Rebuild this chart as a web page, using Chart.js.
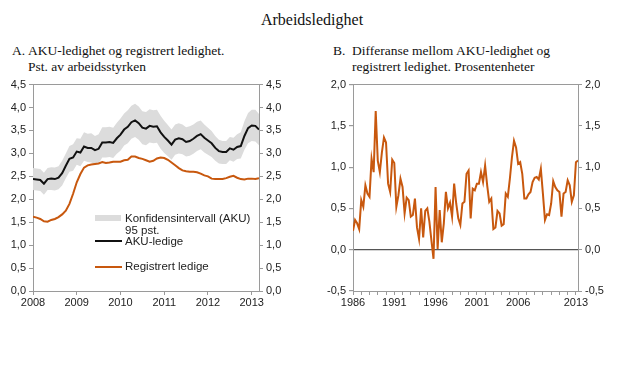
<!DOCTYPE html>
<html>
<head>
<meta charset="utf-8">
<script src="https://cdn.jsdelivr.net/npm/chart.js@4.4.1/dist/chart.umd.min.js"></script>
<style>
    body { margin: 0; background: #fff; width: 620px; height: 365px; position: relative; overflow: hidden; }
    .serif { position: absolute; font-family: "Liberation Serif", "Times New Roman", serif; color: #111; white-space: nowrap; }
    .leg { position: absolute; font-family: "Liberation Sans", Arial, sans-serif; font-size: 11.5px; color: #222; white-space: nowrap; line-height: 12px; }
    canvas { position: absolute; }
</style>
</head>
<body>
<div class="serif" style="left:0;width:624px;text-align:center;top:11px;font-size:16px;">Arbeidsledighet</div>

<div class="serif" style="left:12px;top:43px;font-size:13.5px;">A.</div>
<div class="serif" style="left:28px;top:43px;font-size:13.5px;line-height:16px;">AKU-ledighet og registrert ledighet.<br>Pst. av arbeidsstyrken</div>

<div class="serif" style="left:333px;top:43px;font-size:13.5px;">B.</div>
<div class="serif" style="left:352px;top:43px;font-size:13.5px;line-height:16px;">Differanse mellom AKU-ledighet og<br>registrert ledighet. Prosentenheter</div>

<canvas id="chartA" width="300" height="240" style="left:0;top:75px;"></canvas>
<canvas id="chartB" width="310" height="240" style="left:310px;top:75px;"></canvas>

<!-- legend panel A -->
<div style="position:absolute;left:95px;top:215px;width:26px;height:6px;background:#dcdcdc;"></div>
<div class="leg" style="left:125px;top:212px;">Konfidensintervall (AKU)<br>95 pst.</div>
<div style="position:absolute;left:95px;top:240px;width:27px;height:2px;background:#111;"></div>
<div class="leg" style="left:125px;top:235px;">AKU-ledige</div>
<div style="position:absolute;left:95px;top:266px;width:27px;height:2px;background:#c8580e;"></div>
<div class="leg" style="left:125px;top:260px;">Registrert ledige</div>

<script>
// ---- DATA panel A (månedlig, jan 2008 - mar 2013) ----
const startYearA = 2008;
const akuLedige = [2.44, 2.43, 2.42, 2.34, 2.44, 2.45, 2.44, 2.47, 2.57, 2.73, 2.88, 2.91,
    3.04, 3.02, 3.15, 3.12, 3.12, 3.07, 3.10, 3.24, 3.24, 3.25, 3.23, 3.33,
    3.41, 3.52, 3.58, 3.68, 3.72, 3.66, 3.56, 3.54, 3.60, 3.58, 3.59, 3.46,
    3.36, 3.28, 3.19, 3.30, 3.33, 3.31, 3.25, 3.27, 3.32, 3.38, 3.42, 3.34,
    3.28, 3.22, 3.12, 3.05, 3.03, 3.03, 3.11, 3.08, 3.14, 3.16, 3.38, 3.55,
    3.61, 3.60, 3.52];
const registrertLedige = [1.62, 1.60, 1.57, 1.52, 1.51, 1.55, 1.57, 1.61, 1.67, 1.75, 1.90, 2.12,
    2.37, 2.55, 2.69, 2.74, 2.76, 2.77, 2.78, 2.81, 2.79, 2.80, 2.82, 2.82,
    2.82, 2.85, 2.86, 2.93, 2.93, 2.90, 2.88, 2.85, 2.82, 2.84, 2.89, 2.91,
    2.90, 2.86, 2.80, 2.74, 2.68, 2.63, 2.61, 2.60, 2.60, 2.59, 2.56, 2.52,
    2.50, 2.45, 2.44, 2.44, 2.44, 2.46, 2.49, 2.51, 2.47, 2.44, 2.43, 2.45,
    2.45, 2.44, 2.46];
const konfØvre = [2.68, 2.67, 2.66, 2.58, 2.68, 2.70, 2.69, 2.72, 2.84, 3.00, 3.16, 3.20,
    3.33, 3.32, 3.46, 3.43, 3.44, 3.38, 3.42, 3.57, 3.57, 3.58, 3.56, 3.67,
    3.76, 3.87, 3.94, 4.04, 4.08, 4.02, 3.92, 3.90, 3.96, 3.94, 3.95, 3.82,
    3.71, 3.62, 3.52, 3.63, 3.66, 3.63, 3.57, 3.59, 3.63, 3.69, 3.72, 3.63,
    3.56, 3.49, 3.38, 3.30, 3.27, 3.27, 3.36, 3.34, 3.42, 3.46, 3.70, 3.88,
    3.95, 3.95, 3.86];
const konfNedre = [2.20, 2.19, 2.18, 2.10, 2.20, 2.20, 2.19, 2.22, 2.30, 2.46, 2.60, 2.62,
    2.75, 2.72, 2.84, 2.81, 2.80, 2.76, 2.78, 2.91, 2.91, 2.92, 2.90, 2.99,
    3.06, 3.17, 3.22, 3.32, 3.36, 3.30, 3.20, 3.18, 3.24, 3.22, 3.23, 3.10,
    3.01, 2.94, 2.86, 2.97, 3.00, 2.98, 2.93, 2.95, 2.99, 3.05, 3.09, 3.02,
    2.97, 2.92, 2.84, 2.78, 2.77, 2.77, 2.85, 2.82, 2.88, 2.89, 3.08, 3.22,
    3.27, 3.26, 3.18];
const yearTicksA = [2008, 2009, 2010, 2011, 2012, 2013];

// ---- DATA panel B (kvartalsvis fra 1986) ----
const startYearB = 1986;
const differanse = [0.23, 0.36, 0.32, 0.25, 0.60, 0.52, 0.78, 0.68, 0.64, 1.10, 0.94, 1.68,
    1.08, 0.94, 1.18, 1.36, 1.30, 0.80, 0.70, 1.09, 1.05, 0.52, 0.66, 0.86,
    0.76, 0.44, 0.63, 0.60, 0.40, 0.42, 0.62, 0.27, 0.13, 0.50, 0.15, 0.47,
    0.50, 0.34, 0.11, -0.11, 0.76, 0.01, 0.48, 0.09, 0.32, 0.70, 0.50, 0.57,
    0.40, 0.80, 0.56, 0.38, 0.30, 0.56, 0.58, 0.92, 0.96,
    0.38, 0.74, 0.72, 0.80, 0.80, 0.94, 0.82, 1.02, 0.78, 0.58, 0.62, 0.25,
    0.27, 0.47, 0.44, 0.29, 0.31, 0.68, 0.64, 0.86, 1.12, 1.32, 1.24, 1.04,
    1.06, 0.92, 0.62, 0.62, 0.67, 0.70, 0.82, 0.87, 0.88, 0.85, 0.98, 0.68,
    0.36, 0.43, 0.42, 0.56, 0.83, 0.76, 0.72, 0.70, 0.40, 0.68, 0.70, 0.84,
    0.78, 0.58, 0.66, 1.06, 1.08];
const yearLabelsB = [1986, 1991, 1996, 2001, 2006, 2013];

// ---- stil ----
const AXIS_COLOR = "#9a9a9a";
const TEXT_COLOR = "#222";
const ORANGE = "#c8580e";
const tickFont = { family: "Liberation Sans", size: 11 };

const fmt = v => v.toFixed(1).replace(".", ",");
const monthly = (arr, start) => arr.map((v, i) => ({ x: start + i / 12, y: v }));
const quarterly = (arr, start) => arr.map((v, i) => ({ x: start + i / 4, y: v }));

function fixedWidth(w) { return scale => { scale.width = w; }; }
function fixedHeight(h) { return scale => { scale.height = h; }; }

function yAxis(position, min, max, width, extraGrid) {
    return {
        type: "linear",
        position,
        min, max,
        afterFit: fixedWidth(width),
        ticks: { stepSize: 0.5, color: TEXT_COLOR, font: tickFont, padding: 3, callback: v => fmt(v) },
        grid: Object.assign({ drawOnChartArea: false, drawTicks: true, tickLength: 4, color: AXIS_COLOR, tickColor: AXIS_COLOR }, extraGrid || {}),
        border: { display: true, color: AXIS_COLOR, width: 1 }
    };
}

const topFrame = {
    type: "linear",
    position: "top",
    afterFit: fixedHeight(0),
    ticks: { display: false },
    grid: { drawOnChartArea: false, drawTicks: false },
    border: { display: true, color: AXIS_COLOR, width: 1 }
};

Chart.defaults.animation = false;

// ---- PANEL A ----
const xMaxA = startYearA + (akuLedige.length - 1) / 12;
new Chart(document.getElementById("chartA"), {
    type: "line",
    data: {
        datasets: [
            { data: monthly(akuLedige, startYearA), borderColor: "#111", borderWidth: 2, pointRadius: 0, fill: false, tension: 0 },
            { data: monthly(registrertLedige, startYearA), borderColor: ORANGE, borderWidth: 2, pointRadius: 0, fill: false, tension: 0 },
            { data: monthly(konfNedre, startYearA), borderWidth: 0, borderColor: "rgba(0,0,0,0)", pointRadius: 0, fill: false },
            { data: monthly(konfØvre, startYearA), borderWidth: 0, borderColor: "rgba(0,0,0,0)", pointRadius: 0, fill: "-1", backgroundColor: "#dcdcdc" }
        ]
    },
    options: {
        responsive: false,
        devicePixelRatio: 1,
        layout: { padding: { top: 8, left: 0, right: 0, bottom: 0 } },
        plugins: { legend: { display: false }, tooltip: { enabled: false } },
        scales: {
            x: {
                type: "linear",
                min: startYearA,
                max: xMaxA,
                afterFit: fixedHeight(24),
                afterBuildTicks: scale => { scale.ticks = yearTicksA.map(v => ({ value: v })); },
                ticks: { color: TEXT_COLOR, font: tickFont, padding: 1, maxRotation: 0, autoSkip: false, callback: v => String(v) },
                grid: { drawOnChartArea: false, drawTicks: true, tickLength: 4, color: AXIS_COLOR },
                border: { display: true, color: AXIS_COLOR, width: 1 }
            },
            x2: topFrame,
            y: yAxis("left", 0, 4.5, 33),
            y2: yAxis("right", 0, 4.5, 41)
        }
    }
});

// ---- PANEL B ----
const xMaxB = startYearB + (differanse.length - 1) / 4;
const allYearsB = [];
for (let y = startYearB; y <= Math.floor(xMaxB); y++) allYearsB.push(y);

const zeroLine = {
    drawOnChartArea: true,
    color: ctx => (ctx.tick && ctx.tick.value === 0 ? "#555" : "rgba(0,0,0,0)"),
    tickColor: AXIS_COLOR,
    lineWidth: 1.2
};

new Chart(document.getElementById("chartB"), {
    type: "line",
    data: {
        datasets: [
            { data: quarterly(differanse, startYearB), borderColor: ORANGE, borderWidth: 2, pointRadius: 0, fill: false, tension: 0 }
        ]
    },
    options: {
        responsive: false,
        devicePixelRatio: 1,
        layout: { padding: { top: 6, left: 0, right: 0, bottom: 0 } },
        plugins: { legend: { display: false }, tooltip: { enabled: false } },
        scales: {
            x: {
                type: "linear",
                min: startYearB,
                max: xMaxB,
                afterFit: fixedHeight(24),
                afterBuildTicks: scale => { scale.ticks = allYearsB.map(v => ({ value: v })); },
                ticks: { color: TEXT_COLOR, font: tickFont, padding: 1, maxRotation: 0, autoSkip: false,
                    callback: v => (yearLabelsB.includes(v) ? String(v) : "") },
                grid: { drawOnChartArea: false, drawTicks: true, tickLength: 4, color: AXIS_COLOR },
                border: { display: true, color: AXIS_COLOR, width: 1 }
            },
            x2: topFrame,
            y: yAxis("left", -0.5, 2.0, 43, zeroLine),
            y2: yAxis("right", -0.5, 2.0, 42)
        }
    }
});
</script>
</body>
</html>
